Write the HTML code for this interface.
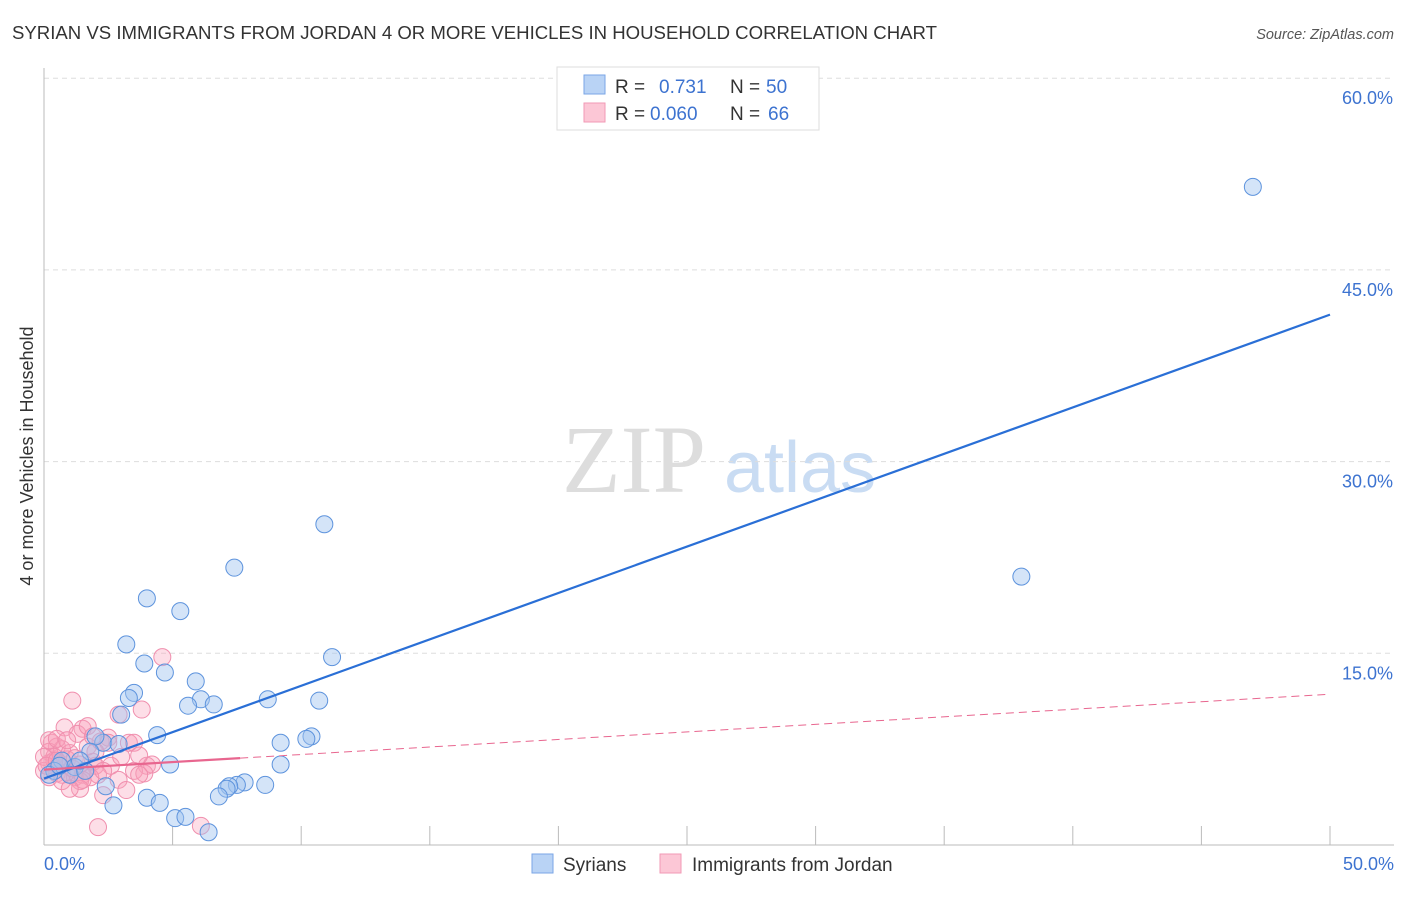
<!DOCTYPE html>
<html><head><meta charset="utf-8"><style>
body{margin:0;background:#fff;font-family:"Liberation Sans",sans-serif}
</style></head><body>
<svg width="1406" height="892" xmlns="http://www.w3.org/2000/svg" style="font-family:'Liberation Sans',sans-serif">
<text x="12" y="39" font-size="18.6" fill="#333">SYRIAN VS IMMIGRANTS FROM JORDAN 4 OR MORE VEHICLES IN HOUSEHOLD CORRELATION CHART</text>
<text x="1394" y="39" font-size="14.5" fill="#555" font-style="italic" text-anchor="end">Source: ZipAtlas.com</text>
<text x="634" y="492" font-size="96" fill="#ddd" font-family="Liberation Serif" text-anchor="middle">ZIP</text>
<text x="800" y="492" font-size="72" fill="#c9dcf3" text-anchor="middle">atlas</text>
<g id="grid"></g>
<line x1="44" y1="68" x2="44" y2="845" stroke="#bbb"/>
<line x1="44" y1="845" x2="1394" y2="845" stroke="#bbb"/>
<g id="xticks"></g>
<text x="33" y="456" font-size="18" fill="#333" text-anchor="middle" transform="rotate(-90 33 456)">4 or more Vehicles in Household</text>
<text x="44" y="870" font-size="18" fill="#3d73d0">0.0%</text>
<text x="1394" y="870" font-size="18" fill="#3d73d0" text-anchor="end">50.0%</text>
<g id="pts"></g>
<g id="lines"></g>
<g>
<rect x="557" y="67" width="262" height="63" fill="#fff" stroke="#ddd"/>
<rect x="584" y="75" width="21" height="19" fill="#b9d3f5" stroke="#7aa6e6"/>
<rect x="584" y="103" width="21" height="19" fill="#fcc7d6" stroke="#f29ab5"/>
<text x="615" y="93" font-size="19" fill="#333">R = </text><text x="659" y="93" font-size="19" fill="#3d73d0">0.731</text>
<text x="730" y="93" font-size="19" fill="#333">N = </text><text x="766" y="93" font-size="19" fill="#3d73d0">50</text>
<text x="615" y="120" font-size="19" fill="#333">R = </text><text x="650" y="120" font-size="19" fill="#3d73d0">0.060</text>
<text x="730" y="120" font-size="19" fill="#333">N = </text><text x="768" y="120" font-size="19" fill="#3d73d0">66</text>
</g>
<g>
<rect x="532" y="854" width="21" height="19" fill="#b9d3f5" stroke="#7aa6e6"/>
<text x="563" y="871" font-size="19" fill="#333">Syrians</text>
<rect x="660" y="854" width="21" height="19" fill="#fcc7d6" stroke="#f29ab5"/>
<text x="692" y="871" font-size="19" fill="#333">Immigrants from Jordan</text>
</g>
</svg>
<script>
const yTicks=[15,30,45,60];
const yTickLabels=["15.0%","30.0%","45.0%","60.0%"];
const xTicks=[0,5,10,15,20,25,30,35,40,45,50];
const blueX=[47.0,38.0,10.9,7.4,4.0,5.3,3.2,3.9,4.7,11.2,5.9,3.5,3.3,6.1,5.6,6.6,8.7,10.7,3.0,10.4,4.4,10.2,2.3,9.2,2.0,1.8,2.9,4.9,9.2,0.7,1.2,7.8,7.5,7.2,8.6,7.1,6.8,2.4,4.0,4.5,2.7,5.1,5.5,6.4,0.4,0.2,1.0,1.6,0.6,1.4];
const blueY=[51.5,21.0,25.1,21.7,19.3,18.3,15.7,14.2,13.5,14.7,12.8,11.9,11.5,11.4,10.9,11.0,11.4,11.3,10.2,8.5,8.6,8.3,8.0,8.0,8.5,7.3,7.9,6.3,6.3,6.6,6.1,4.9,4.7,4.6,4.7,4.4,3.8,4.6,3.7,3.3,3.1,2.1,2.2,1.0,5.8,5.5,5.5,5.8,6.2,6.6];
const pinkX=[1.1,4.6,3.8,2.9,0.8,1.5,1.3,0.3,0.5,0.2,0.7,1.0,1.7,2.2,2.5,3.3,3.5,0.4,0.9,1.2,1.9,0.2,0.6,1.4,2.0,2.6,4.0,4.2,0.0,0.5,0.9,1.6,2.1,3.5,3.9,0.2,0.7,1.2,1.5,1.8,0.7,1.4,2.9,3.7,1.4,2.3,3.2,2.1,6.1,0.2,0.5,1.7,2.5,1.1,0.4,0.9,2.0,0.0,3.0,0.1,1.5,0.5,2.3,1.0,3.7,1.9];
const pinkY=[11.3,14.7,10.6,10.2,9.2,9.1,8.7,8.0,7.7,7.3,7.5,7.2,7.7,8.1,8.4,8.0,8.0,6.9,6.7,6.8,6.5,6.4,6.2,6.3,6.2,6.2,6.2,6.3,5.8,5.6,5.7,5.8,5.5,5.8,5.6,5.3,5.5,5.3,5.5,5.3,5.0,5.0,5.1,5.5,4.4,3.9,4.3,1.4,1.5,8.2,8.3,9.3,8.0,6.0,6.6,8.2,7.3,6.9,6.9,6.2,5.1,6.6,5.8,4.4,7.0,8.5];
const blueLine=[5.2,41.5];
const pinkLine=[5.9,11.8];
const pinkSolidEnd=6.8;
const X=v=>44+v/50*1286, Y=v=>845-v/15*191.7;
const NS="http://www.w3.org/2000/svg";
function mk(t,a,p){const e=document.createElementNS(NS,t);for(const k in a)e.setAttribute(k,a[k]);p.appendChild(e);return e;}
const grid=document.getElementById('grid');
yTicks.forEach((v,i)=>{
 const l=mk('line',{x1:44,y1:Y(v),x2:1394,y2:Y(v),stroke:'#ddd','stroke-dasharray':'5,4'},grid);
 
 
 const t=mk('text',{x:1393,y:Y(v)+26,'font-size':18,fill:'#3d73d0','text-anchor':'end'},grid);
 t.textContent=yTickLabels[i];
 
 
});
const xt=document.getElementById('xticks');
xTicks.forEach(v=>{
 const l=mk('line',{x1:X(v),y1:826,x2:X(v),y2:845,stroke:'#bbb'},xt);
 
 
});
const pts=document.getElementById('pts');
pinkX.forEach((v,i)=>{
 const c=mk('circle',{cx:X(v),cy:Y(pinkY[i]),r:8.5,fill:'rgba(248,160,186,0.35)',stroke:'#f08fae','stroke-width':1},pts);
 
 
});
blueX.forEach((v,i)=>{
 const c=mk('circle',{cx:X(v),cy:Y(blueY[i]),r:8.5,fill:'rgba(160,196,240,0.45)',stroke:'#5d93dd','stroke-width':1},pts);
 
 
});
const ln=document.getElementById('lines');
const bl=mk('line',{x1:X(0),y1:Y(blueLine[0]),x2:X(50),y2:Y(blueLine[1]),stroke:'#2a6fd6','stroke-width':2.2},ln);


const xs=(pinkSolidEnd-pinkLine[0])/(pinkLine[1]-pinkLine[0])*50;
const pl=mk('line',{x1:X(0),y1:Y(pinkLine[0]),x2:X(xs),y2:Y(pinkSolidEnd),stroke:'#e8668f','stroke-width':2.2},ln);


const pd=mk('line',{x1:X(xs),y1:Y(pinkSolidEnd),x2:X(50),y2:Y(pinkLine[1]),stroke:'#e8668f','stroke-width':1,'stroke-dasharray':'8,5'},ln);


</script>
</body></html>
